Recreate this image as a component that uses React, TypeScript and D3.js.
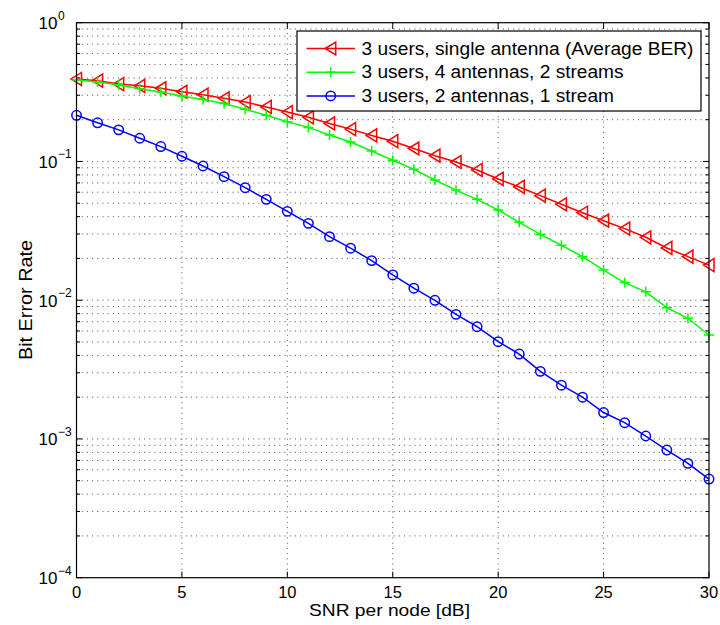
import React from "react";
import * as d3 from "d3";

const snr = d3.range(0, 31);
const redBER = [0.393, 0.382, 0.361, 0.351, 0.337, 0.318, 0.303, 0.285, 0.268, 0.247, 0.227, 0.208, 0.188, 0.171, 0.154, 0.140,
  0.124, 0.110, 0.0991, 0.0868, 0.0748, 0.0655, 0.0567, 0.0491, 0.0427, 0.0374, 0.0328, 0.0284, 0.0238, 0.0206, 0.0179];
const greenBER = [0.386, 0.374, 0.356, 0.334, 0.317, 0.296, 0.280, 0.262, 0.238, 0.215, 0.193, 0.176, 0.155, 0.138, 0.119, 0.102,
  0.0878, 0.0735, 0.0622, 0.0533, 0.0447, 0.0364, 0.0298, 0.0249, 0.0206, 0.0165, 0.0134, 0.0115, 0.00883, 0.00741, 0.00561];
const blueBER = [0.215, 0.190, 0.169, 0.147, 0.128, 0.109, 0.0927, 0.0777, 0.0647, 0.0533, 0.0437, 0.0358, 0.0287, 0.0237, 0.0193, 0.0152,
  0.0122, 0.00998, 0.00791, 0.00644, 0.00502, 0.00409, 0.00307, 0.00244, 0.00200, 0.00155, 0.00131, 0.00105, 0.000832, 0.000667, 0.000514];

const seriesNames = [
  "3 users, single antenna (Average BER)",
  "3 users, 4 antennas, 2 streams",
  "3 users, 2 antennas, 1 stream",
];
const legendWidths = [332, 262, 252.5];
const xTicks = [0, 5, 10, 15, 20, 25, 30];
const yExponents = [0, -1, -2, -3, -4];

const FONT = "Liberation Sans, Arial, Helvetica, sans-serif";

function Marker({ kind, color }: { kind: string; color: string }) {
  if (kind === "tri")
    return <path d="M-5.5,0L5,-6.5L5,6.5Z" fill="none" stroke={color} strokeWidth={1.5} />;
  if (kind === "plus")
    return <path d="M-5,0H5M0,-5V5" fill="none" stroke={color} strokeWidth={1.5} />;
  return <circle r={4.7} fill="none" stroke={color} strokeWidth={1.5} />;
}

export default function App() {
  const L = 76.5, R = 709, T = 22.7, B = 577.7;
  const x = d3.scaleLinear().domain([0, 30]).range([L, R]);
  const y = d3.scaleLog().domain([1e-4, 1]).range([B, T]);

  const minor: number[] = [];
  for (let e = -4; e < 0; e++) for (let m = 2; m <= 9; m++) minor.push(m * Math.pow(10, e));
  const major = yExponents.map((e) => Math.pow(10, e));

  const series = [
    { data: redBER, color: "#ff0000", kind: "tri" },
    { data: greenBER, color: "#00ff00", kind: "plus" },
    { data: blueBER, color: "#0000ff", kind: "circ" },
  ];
  const line = d3.line<number>().x((_, i) => x(snr[i])).y((d) => y(d));

  const grid = { stroke: "#222", strokeWidth: 0.8, strokeDasharray: "1 4.2" };

  return (
    <svg width={720} height={625} style={{ position: "absolute", left: 0, top: 0, background: "#fff" }} fontFamily={FONT}>
      <rect x={0} y={0} width={720} height={625} fill="#fff" />
      {/* grid */}
      {xTicks.slice(1, -1).map((t) => (
        <line key={"gx" + t} x1={x(t)} x2={x(t)} y1={T} y2={B} {...grid} />
      ))}
      {[...minor, ...major.slice(1, -1)].map((v, i) => (
        <line key={"gy" + i} x1={L} x2={R} y1={y(v)} y2={y(v)} {...grid} />
      ))}
      {/* ticks */}
      {xTicks.map((t) => (
        <g key={"tx" + t}>
          <line x1={x(t)} x2={x(t)} y1={B} y2={B - 6} stroke="#000" />
          <line x1={x(t)} x2={x(t)} y1={T} y2={T + 6} stroke="#000" />
          <text x={x(t)} y={597.5} fontSize={16.5} textAnchor="middle">{t}</text>
        </g>
      ))}
      {minor.map((v, i) => (
        <g key={"mt" + i}>
          <line x1={L} x2={L + 3.5} y1={y(v)} y2={y(v)} stroke="#000" />
          <line x1={R} x2={R - 3.5} y1={y(v)} y2={y(v)} stroke="#000" />
        </g>
      ))}
      {yExponents.map((e) => {
        const v = Math.pow(10, e);
        return (
          <g key={"ty" + e}>
            <line x1={L} x2={L + 6} y1={y(v)} y2={y(v)} stroke="#000" />
            <line x1={R} x2={R - 6} y1={y(v)} y2={y(v)} stroke="#000" />
            <text x={57.5} y={y(v) + 6.5} fontSize={17} textAnchor="end">10</text>
            <text x={58} y={y(v) - 3} fontSize={12}>{e === 0 ? "0" : "\u2212" + Math.abs(e)}</text>
          </g>
        );
      })}
      {/* series */}
      {series.map((s, si) => (
        <g key={"s" + si}>
          <path d={line(s.data) || ""} fill="none" stroke={s.color} strokeWidth={1.5} />
          {s.data.map((d, i) => (
            <g key={i} transform={`translate(${x(snr[i])},${y(d)})`}>
              <Marker kind={s.kind} color={s.color} />
            </g>
          ))}
        </g>
      ))}
      {/* frame */}
      <rect x={L} y={T} width={R - L} height={B - T} fill="none" stroke="#000" strokeWidth={1.2} />
      {/* legend */}
      <g>
        <rect x={297} y={31} width={404} height={80} fill="#fff" stroke="#000" strokeWidth={1.2} />
        {series.map((s, i) => {
          const cy = 48.5 + i * 23.7;
          return (
            <g key={"lg" + i}>
              <line x1={306.5} x2={355} y1={cy} y2={cy} stroke={s.color} strokeWidth={1.5} />
              <g transform={`translate(330.7,${cy})`}>
                <Marker kind={s.kind} color={s.color} />
              </g>
              <text x={361.5} y={cy + 6} fontSize={17.5} textLength={legendWidths[i]} lengthAdjust="spacingAndGlyphs">{seriesNames[i]}</text>
            </g>
          );
        })}
      </g>
      {/* axis labels */}
      <text x={309} y={615.5} fontSize={16.5} textLength={161} lengthAdjust="spacingAndGlyphs">SNR per node [dB]</text>
      <text transform="translate(32,300) rotate(-90)" x={-60} fontSize={17.5} textLength={120} lengthAdjust="spacingAndGlyphs">Bit Error Rate</text>
    </svg>
  );
}
